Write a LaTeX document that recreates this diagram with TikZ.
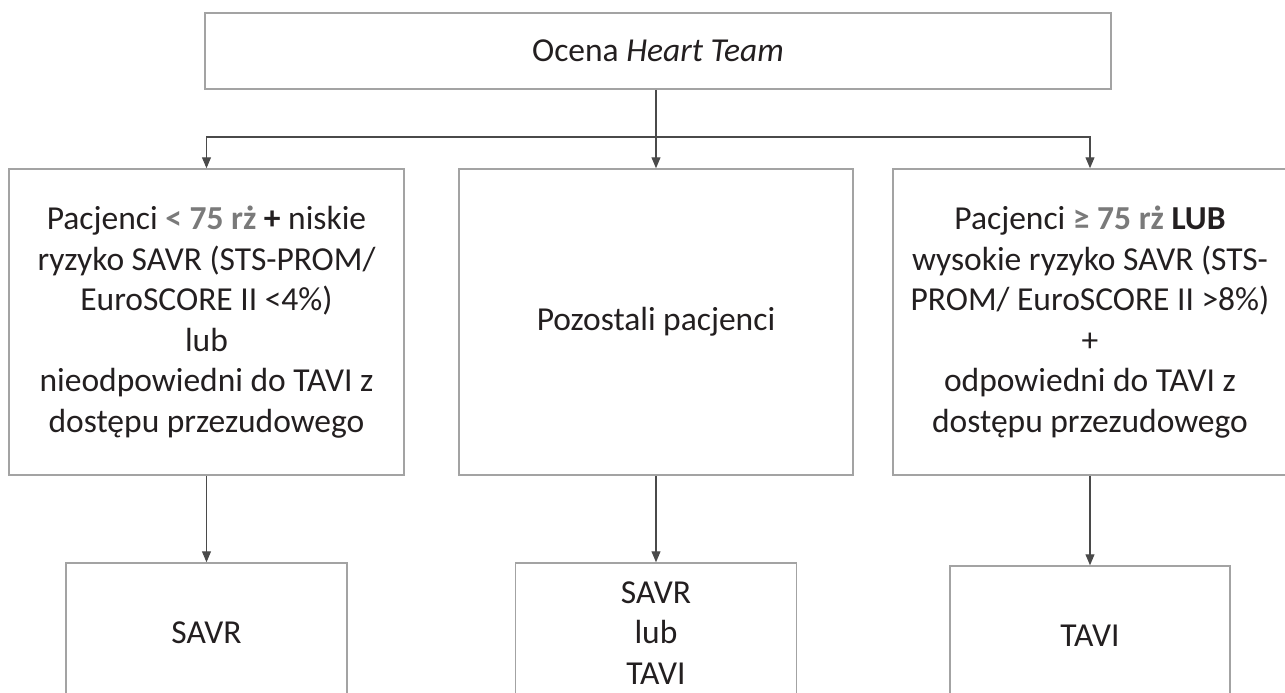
\documentclass[tikz,border=0pt]{standalone}
\usepackage{fontspec}
\setmainfont{Carlito}
\usetikzlibrary{arrows.meta}
\definecolor{txt}{HTML}{231F20}
\definecolor{boxline}{HTML}{A3A3A3}
\definecolor{arrline}{HTML}{4A4A4A}
\definecolor{hl}{HTML}{7A7A7A}
\tikzset{
  box/.style={draw=boxline, line width=1.5pt, fill=white, inner sep=0pt, align=center,
    text=txt, font=\fontsize{33.5}{40.5}\selectfont},
  arr/.style={draw=arrline, line width=1.1pt, -{Triangle[length=11pt,width=9pt]}}
}
\begin{document}
\begin{tikzpicture}[x=1pt,y=-1pt]
\useasboundingbox (0,0) rectangle (1285,693);
\clip (0,0) rectangle (1285,693);
\fill[white] (0,0) rectangle (1285,693);
\node[box, minimum width=906pt, minimum height=76pt] (top) at (658,51) {Ocena \textit{Heart Team}};
\node[box, minimum width=395pt, minimum height=306pt] (L) at (206.5,322)
  {Pacjenci \textbf{\textcolor{hl}{< 75 rż}} \textbf{+} niskie\\
   ryzyko SAVR (STS-PROM/\\
   EuroSCORE II <4\%)\\
   lub\\
   nieodpowiedni do TAVI z\\
   dostępu przezudowego};
\node[box, minimum width=394pt, minimum height=306pt] (M) at (656,322) {Pozostali pacjenci};
\node[box, minimum width=394pt, minimum height=306pt] (R) at (1090,322)
  {Pacjenci \textbf{\textcolor{hl}{≥ 75 rż}} \textbf{LUB}\\
   wysokie ryzyko SAVR (STS-\\
   PROM/ EuroSCORE II >8\%)\\
   +\\
   odpowiedni do TAVI z\\
   dostępu przezudowego};
\node[box, minimum width=281pt, minimum height=140pt] (BL) at (206.5,633) {SAVR};
\node[box, minimum width=281pt, minimum height=140pt] (BM) at (656,633) {SAVR\\lub\\TAVI};
\node[box, minimum width=280pt, minimum height=140pt] (BR) at (1090,636) {TAVI};
\coordinate (j) at (656,137);
\draw[arr] (M.north |- top.south) -- (M.north);
\draw[arr] (j) -| (L.north);
\draw[arr] (j) -| (R.north);
\draw[arr] (L.south) -- (BL.north);
\draw[arr] (M.south) -- (BM.north);
\draw[arr] (R.south) -- (BR.north);
\end{tikzpicture}
\end{document}
